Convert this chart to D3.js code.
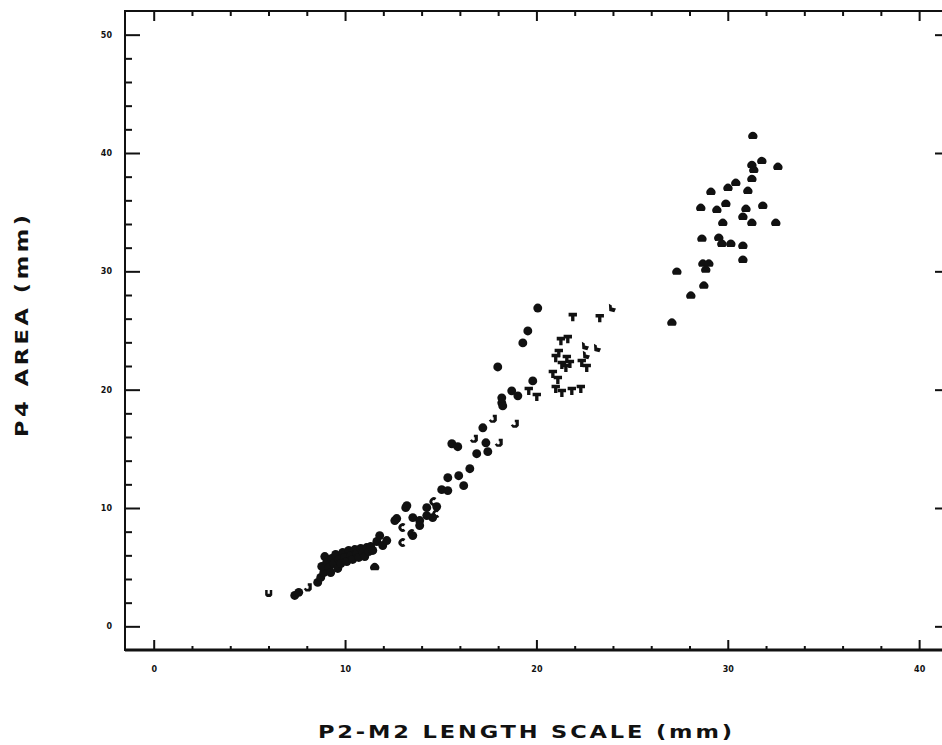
<!DOCTYPE html>
<html>
<head>
<meta charset="utf-8">
<script src="https://cdn.jsdelivr.net/npm/d3@7"></script>
<style>
  body { margin: 0; background: #fff; }
  svg { display: block; }
  text { font-family: 'DejaVu Sans', sans-serif; font-weight: bold; fill: #111; }
</style>
</head>
<body>
<svg id="chart" width="942" height="745"></svg>
<script>
const xTicks = [0, 10, 20, 30, 40];
const yTicks = [0, 10, 20, 30, 40, 50];
const xTitle = 'P2-M2 LENGTH SCALE (mm)';
const yTitle = 'P4 AREA (mm)';

// top-right group (dome markers)
const domeX = [31.31, 31.78, 32.62, 31.26, 31.36, 31.26, 30.42, 30.01, 29.12, 31.05, 28.59, 29.43, 29.90, 30.95, 31.83, 30.79,
  29.74, 31.26, 32.51, 28.65, 29.53, 29.69, 30.16, 30.79, 30.79, 28.70, 29.01, 28.85, 27.34, 28.75, 28.07, 27.08, 11.55];
const domeY = [41.40, 39.29, 38.79, 38.95, 38.53, 37.77, 37.44, 37.02, 36.68, 36.76, 35.33, 35.16, 35.67, 35.24, 35.50, 34.57,
  34.06, 34.06, 34.06, 32.72, 32.80, 32.29, 32.29, 32.12, 30.94, 30.61, 30.61, 30.10, 29.93, 28.75, 27.91, 25.63, 4.97];

// T markers
const tX = [21.90, 23.31, 21.28, 21.64, 21.17, 21.01, 21.59, 21.75, 21.33, 22.37, 22.63, 20.86, 21.12, 21.01, 21.33, 21.85,
  22.32, 19.60, 20.02, 21.54];
const tY = [26.14, 26.05, 24.11, 24.28, 23.10, 22.68, 22.60, 22.18, 22.09, 22.26, 21.84, 21.33, 20.83, 20.07, 19.73, 19.90,
  20.07, 19.90, 19.39, 21.84];

// L markers
const lX = [23.94, 23.16, 22.53, 22.58];
const lY = [26.90, 23.52, 23.69, 22.93];

// filled dots
const dotX = [20.07, 19.55, 19.29, 17.98, 19.81, 18.71, 19.03, 18.19, 18.24, 17.20, 17.36, 15.58, 15.89, 16.88, 17.46, 16.52,
  15.94, 15.37, 16.20, 15.05, 15.37, 13.17, 14.27, 14.79, 13.54, 12.70, 14.58, 18.19,
  8.57, 8.73, 8.89, 8.78, 8.94, 9.04, 9.15, 9.25, 9.30, 9.41, 9.51, 9.62, 9.67, 9.78, 9.88, 9.98, 10.09, 10.19, 10.30, 10.40,
  10.51, 10.61, 10.72, 10.82, 10.93, 11.03, 11.13, 11.24, 11.34, 11.45, 11.66, 11.97, 12.18, 11.81,
  12.60, 13.23, 13.90, 14.27, 13.54, 13.90, 7.37, 7.58];
const dotY = [26.90, 24.96, 23.95, 21.92, 20.74, 19.90, 19.48, 18.89, 18.63, 16.78, 15.51, 15.43, 15.18, 14.59, 14.76, 13.32,
  12.73, 12.56, 11.89, 11.55, 11.47, 10.03, 10.03, 10.12, 9.19, 9.11, 9.19, 19.31,
  3.71, 4.13, 4.55, 5.06, 5.90, 5.40, 4.97, 4.55, 5.73, 5.31, 6.07, 4.89, 5.65, 5.31, 6.24, 5.82, 5.48, 6.41, 5.99, 5.65,
  6.49, 6.16, 5.82, 6.58, 6.24, 5.90, 6.66, 6.32, 6.75, 6.41, 7.17, 6.83, 7.25, 7.67,
  8.94, 10.20, 8.94, 9.36, 7.67, 8.52, 2.61, 2.87];

// C, J and U markers
const cX = [13.49, 13.02, 14.79, 14.64, 13.02];
const cY = [7.84, 7.08, 9.53, 10.54, 8.35];
const jX = [8.05, 17.72, 18.87, 16.73, 18.03];
const jY = [3.29, 17.54, 17.12, 15.85, 15.51];
const uX = [6.01];
const uY = [2.78];

const poly = (ctx, r, pts) => {
  pts.forEach(([a, b], i) => (i ? ctx.lineTo(a * r, b * r) : ctx.moveTo(a * r, b * r)));
  ctx.closePath();
};
const symDome = {
  draw(ctx, size) {
    const r = Math.sqrt(size / Math.PI);
    ctx.moveTo(-0.81 * r, 0.59 * r);
    ctx.arc(0, 0, r, Math.PI * 0.8, Math.PI * 2.2);
    ctx.closePath();
  },
};
const symT = {
  draw(ctx, size) {
    poly(ctx, Math.sqrt(size) / 2, [[-1, -1], [1, -1], [1, -0.15], [0.4, -0.15], [0.4, 1], [-0.4, 1], [-0.4, -0.15], [-1, -0.15]]);
  },
};
const symL = {
  draw(ctx, size) {
    poly(ctx, Math.sqrt(size) / 2, [[-0.7, -1], [0, -0.6], [0, -0.1], [1, 0.1], [0.6, 1], [-0.6, 0.7]]);
  },
};
const symC = {
  draw(ctx, size) {
    const r = Math.sqrt(size / Math.PI);
    ctx.arc(0, 0, r, Math.PI * 0.3, Math.PI * 1.7);
    ctx.arc(0, 0, r * 0.35, Math.PI * 1.7, Math.PI * 0.3, true);
    ctx.closePath();
  },
};
const symJ = {
  draw(ctx, size) {
    poly(ctx, Math.sqrt(size) / 2, [[0, -1], [1, -1], [1, 0.5], [0.5, 1], [-0.5, 1], [-1, 0.4], [-0.5, 0.1], [-0.2, 0.4],
      [0.2, 0.3], [0.2, -0.4], [0, -0.4]]);
  },
};
const symU = {
  draw(ctx, size) {
    poly(ctx, Math.sqrt(size) / 2, [[-1, -1], [-0.3, -1], [-0.3, 0.1], [0.3, 0.1], [0.3, -1], [1, -1], [1, 0.5], [0.5, 1],
      [-0.5, 1], [-1, 0.5]]);
  },
};

const series = [
  { xs: domeX, ys: domeY, type: symDome, size: 65 },
  { xs: tX, ys: tY, type: symT, size: 70 },
  { xs: lX, ys: lY, type: symL, size: 70 },
  { xs: dotX, ys: dotY, type: d3.symbolCircle, size: 62 },
  { xs: cX, ys: cY, type: symC, size: 60 },
  { xs: jX, ys: jY, type: symJ, size: 65 },
  { xs: uX, ys: uY, type: symU, size: 50 },
];

const frame = { left: 125, right: 944, top: 11, bottom: 650 };
const svg = d3.select('#chart');
const x = d3.scaleLinear().domain([-1.5, 41.3]).range([frame.left, frame.right]);
const y = d3.scaleLinear().domain([-2, 52]).range([frame.bottom, frame.top]);

const xMinor = d3.range(0, 41, 2).filter((v) => v % 10);
const yMinor = d3.range(0, 51, 2).filter((v) => v % 10);

const ink = '#111';
const styleAxis = (g) => {
  g.select('.domain').remove();
  g.selectAll('line').attr('stroke', ink).attr('stroke-width', 2);
  g.selectAll('text').style('font-size', '8px').attr('fill', ink);
};

// bottom axis
svg.append('g').attr('transform', `translate(0,${frame.bottom})`)
  .call(d3.axisBottom(x).tickValues(xTicks).tickSize(-10).tickPadding(16)).call(styleAxis);
svg.append('g').attr('transform', `translate(0,${frame.bottom})`)
  .call(d3.axisBottom(x).tickValues(xMinor).tickSize(-4).tickFormat('')).call(styleAxis);
// top axis
svg.append('g').attr('transform', `translate(0,${frame.top})`)
  .call(d3.axisTop(x).tickValues(xTicks).tickSize(-10).tickFormat('')).call(styleAxis);
svg.append('g').attr('transform', `translate(0,${frame.top})`)
  .call(d3.axisTop(x).tickValues(xMinor).tickSize(-5).tickFormat('')).call(styleAxis);
// left axis
svg.append('g').attr('transform', `translate(${frame.left},0)`)
  .call(d3.axisLeft(y).tickValues(yTicks).tickSize(-15).tickPadding(13)).call(styleAxis);
svg.append('g').attr('transform', `translate(${frame.left},0)`)
  .call(d3.axisLeft(y).tickValues(yMinor).tickSize(-7).tickFormat('')).call(styleAxis);
// right axis
svg.append('g').attr('transform', `translate(${frame.right},0)`)
  .call(d3.axisRight(y).tickValues(yTicks).tickSize(-9).tickFormat('')).call(styleAxis);

// frame
svg.append('rect')
  .attr('x', frame.left).attr('y', frame.top)
  .attr('width', frame.right - frame.left).attr('height', frame.bottom - frame.top)
  .attr('fill', 'none').attr('stroke', ink).attr('stroke-width', 2);
svg.append('line')
  .attr('x1', frame.left).attr('x2', frame.right)
  .attr('y1', frame.bottom).attr('y2', frame.bottom)
  .attr('stroke', ink).attr('stroke-width', 3);

// markers
const marks = svg.append('g').attr('fill', ink);
series.forEach((s) => {
  const sym = d3.symbol().type(s.type).size(s.size);
  marks.selectAll(null)
    .data(s.xs.map((v, i) => [v, s.ys[i]]))
    .join('path')
    .attr('transform', (d) => `translate(${x(d[0])},${y(d[1])})`)
    .attr('d', sym);
});

// titles (wide plotter lettering: scaled horizontally)
const stretch = 1.25;
svg.append('text')
  .attr('transform', `translate(525,738) scale(${stretch},1)`)
  .attr('text-anchor', 'middle')
  .attr('textLength', 414 / stretch).attr('lengthAdjust', 'spacing')
  .style('font-size', '18px')
  .text(xTitle);
svg.append('text')
  .attr('transform', `translate(28,326) rotate(-90) scale(${stretch},1)`)
  .attr('text-anchor', 'middle')
  .attr('textLength', 222 / stretch).attr('lengthAdjust', 'spacing')
  .style('font-size', '18px')
  .text(yTitle);
</script>
</body>
</html>
